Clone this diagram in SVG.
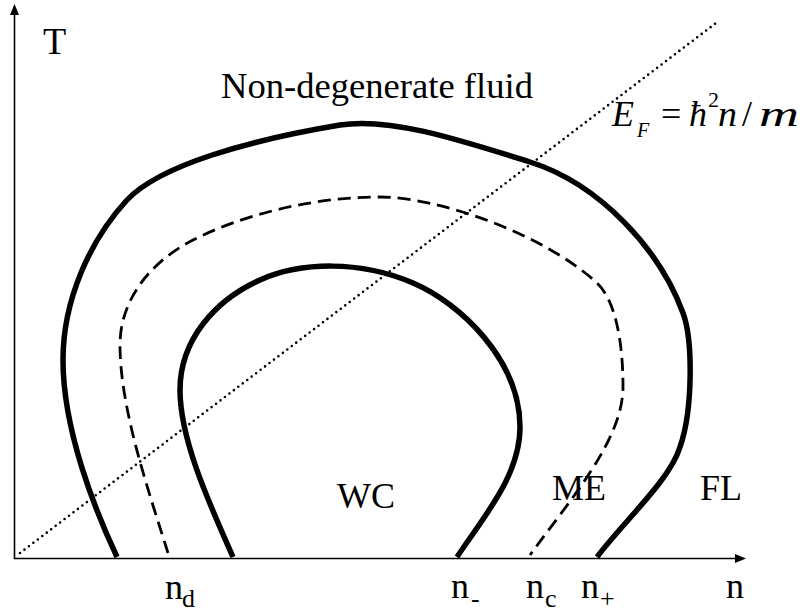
<svg xmlns="http://www.w3.org/2000/svg" width="800" height="614" viewBox="0 0 800 614">
<style>
text { font-family: 'Liberation Serif', 'DejaVu Serif', serif; fill: #000; }
.lbl { font-size: 36px; }
.sub { font-size: 26px; }
.it { font-style: italic; }
.thick { fill: none; stroke: #000; stroke-width: 5.5; stroke-linecap: butt; }
.dash { fill: none; stroke: #000; stroke-width: 2.8; stroke-dasharray: 13 7; }
.dot { fill: none; stroke: #000; stroke-width: 2.6; stroke-dasharray: 0 5.6; stroke-linecap: round; }
.axis { fill: none; stroke: #000; stroke-width: 1.6; }
</style>
<rect width="800" height="614" fill="#fff"/>
<g id="axes">
  <line class="axis" x1="14.5" y1="559" x2="14.5" y2="13"/>
  <polygon points="14.5,4 10,15 19,15" fill="#000"/>
  <line class="axis" x1="14" y1="558.5" x2="737" y2="558.5"/>
  <polygon points="746,558.5 735,554 735,563" fill="#000"/>
</g>
<g id="connectors">
  <path id="fermi-line" class="dot" d="M20,553 L716,23"/>
  <path id="outer-curve" class="thick" d="M117,557 C95,510 63,430 63,360 C63,300 90,240 127,200 C160,165 250,140 340,125 C390,117 460,140 530,162 C600,184 660,250 683,313 C693,340 693,410 680,447 C670,480 625,520 597,557"/>
  <path id="dashed-curve" class="dash" d="M168,553 C150,495 120,410 120,345 C120,300 150,262 193,240 C240,216 310,197 380,197 C440,197 545,235 597,283 C615,300 623,340 623,387 C623,440 570,500 530,555"/>
  <path id="inner-curve" class="thick" d="M233,557 C210,505 180,440 180,390 C180,340 215,300 260,280 C300,262 360,260 413,283 C460,303 520,360 520,427 C520,475 485,515 457,557"/>
</g>
<g id="label-T"><text class="lbl" x="43" y="54" style="font-size:38px">T</text></g>
<g id="label-nondeg"><text class="lbl" x="221" y="98" textLength="312" lengthAdjust="spacingAndGlyphs">Non-degenerate fluid</text></g>
<g id="label-EF">
  <text class="lbl it" x="612" y="126">E</text>
  <text class="it" x="637" y="137" style="font-size:20px">F</text>
  <text class="lbl" x="661" y="126">=</text>
  <text class="lbl it" x="689" y="126">ħ</text>
  <text x="708" y="107" style="font-size:22px">2</text>
  <text class="lbl it" x="718" y="126" textLength="19" lengthAdjust="spacingAndGlyphs">n</text>
  <text class="lbl" x="742" y="126">/</text>
  <text class="lbl it" x="759" y="126" textLength="40" lengthAdjust="spacingAndGlyphs">m</text>
</g>
<g id="label-WC"><text class="lbl" x="337" y="508">WC</text></g>
<g id="label-ME"><text class="lbl" x="552" y="500">ME</text></g>
<g id="label-FL"><text class="lbl" x="700" y="500">FL</text></g>
<g id="label-nd"><text class="lbl" x="165" y="599">n</text><text class="sub" x="182" y="607">d</text></g>
<g id="label-nminus"><text class="lbl" x="451" y="598">n</text><text class="sub" x="471" y="607">-</text></g>
<g id="label-nc"><text class="lbl" x="526" y="598">n</text><text class="sub" x="545" y="607">c</text></g>
<g id="label-nplus"><text class="lbl" x="581" y="598">n</text><text class="sub" x="600" y="607">+</text></g>
<g id="label-n"><text class="lbl" x="726" y="598">n</text></g>
</svg>
